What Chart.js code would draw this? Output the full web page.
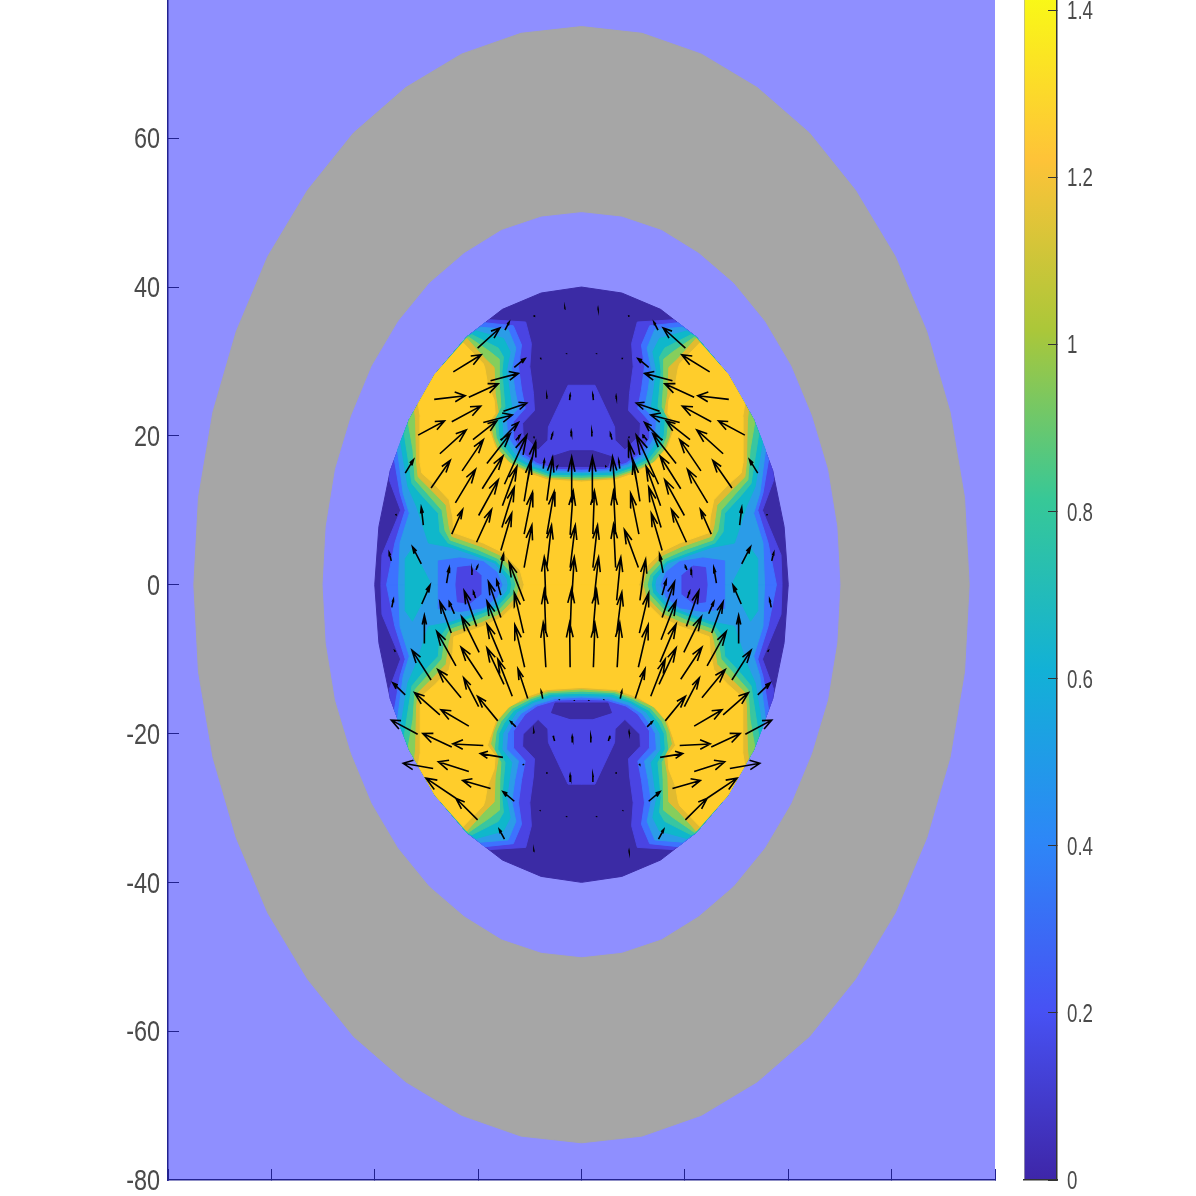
<!DOCTYPE html>
<html lang="en">
<head>
<meta charset="UTF-8" />
<title>Flux density contour with quiver</title>
<script src="https://cdn.jsdelivr.net/npm/chart.js@4/dist/chart.umd.min.js"></script>
<style>
html, body { margin: 0; background: #fff; overflow: hidden; width: 1196px; height: 1196px; }
canvas { position: absolute; top: -40px; }
#field { left: 0; }
#bar { left: 1000px; }
</style>
</head>
<body>
<canvas id="field" width="1196" height="1236"></canvas>
<canvas id="bar" width="196" height="1236"></canvas>
<script>
const xTicks = [-80,-60,-40,-20,0,20,40,60,80];
const yTicks = [-80,-60,-40,-20,0,20,40,60,80];
const barTicks = [0,0.2,0.4,0.6,0.8,1,1.2,1.4];
const barMax = 1.4247;
const parula = ['#3e26a8','#4752f4','#2d87f7','#12b1d6','#37c897','#abc739','#fec338','#f9fb15'];

const airColor = '#8f8fff';
const ironColor = '#a6a6a6';
const bandColors = ['#3b2ba5','#4a44e3','#3d72ff','#2b9ce8','#0fb7cb','#38c6a0','#86ce5c','#e1bb30','#ffcd2b'];

// outlines, flat x,y lists in axis units
const airBox = [-80,-80,80,-80,80,80,-80,80];
const outerRing = [75,0,74.1,11.7,71.3,23.2,66.8,34,60.7,44.1,53,53,44.1,60.7,34,66.8,23.2,71.3,11.7,74.1,0,75,-11.7,74.1,-23.2,71.3,-34,66.8,-44.1,60.7,-53,53,-60.7,44.1,-66.8,34,-71.3,23.2,-74.1,11.7,-75,0,-74.1,-11.7,-71.3,-23.2,-66.8,-34,-60.7,-44.1,-53,-53,-44.1,-60.7,-34,-66.8,-23.2,-71.3,-11.7,-74.1,0,-75,11.7,-74.1,23.2,-71.3,34,-66.8,44.1,-60.7,53,-53,60.7,-44.1,66.8,-34,71.3,-23.2,74.1,-11.7];
const innerRing = [50,0,49.4,7.8,47.6,15.5,44.5,22.7,40.5,29.4,35.4,35.4,29.4,40.5,22.7,44.5,15.5,47.6,7.8,49.4,0,50,-7.8,49.4,-15.5,47.6,-22.7,44.5,-29.4,40.5,-35.4,35.4,-40.5,29.4,-44.5,22.7,-47.6,15.5,-49.4,7.8,-50,0,-49.4,-7.8,-47.6,-15.5,-44.5,-22.7,-40.5,-29.4,-35.4,-35.4,-29.4,-40.5,-22.7,-44.5,-15.5,-47.6,-7.8,-49.4,0,-50,7.8,-49.4,15.5,-47.6,22.7,-44.5,29.4,-40.5,35.4,-35.4,40.5,-29.4,44.5,-22.7,47.6,-15.5,49.4,-7.8];
const coreRing = [40,0,39.2,7.8,37,15.3,33.3,22.2,28.3,28.3,22.2,33.3,15.3,37,7.8,39.2,0,40,-7.8,39.2,-15.3,37,-22.2,33.3,-28.3,28.3,-33.3,22.2,-37,15.3,-39.2,7.8,-40,0,-39.2,-7.8,-37,-15.3,-33.3,-22.2,-28.3,-28.3,-22.2,-33.3,-15.3,-37,-7.8,-39.2,0,-40,7.8,-39.2,15.3,-37,22.2,-33.3,28.3,-28.3,33.3,-22.2,37,-15.3,39.2,-7.8];

// contour bands, one closed piece per quadrant: top left, top right, bottom left, bottom right
const band2 = [
[0,0,0,26.8,-2.6,26.8,-6.4,21.2,-6.5,19.4,-8.4,18.1,-11.3,20.1,-11.4,21.7,-9.1,23.4,-9.3,25.7,-10,29.3,-9.7,32.4,-10.8,35.3,-17.8,35.6,-22.2,33.3,-28.3,28.3,-33.3,22.2,-37,15.3,-37.2,14.1,-35,10,-38.6,4,-38.8,0],
[0,0,0,26.8,2.6,26.8,6.4,21.2,6.5,19.4,8.4,18.1,11.3,20.1,11.4,21.7,9.1,23.4,9.3,25.7,10,29.3,9.7,32.4,10.8,35.3,17.8,35.6,22.2,33.3,28.3,28.3,33.3,22.2,37,15.3,37.2,14.1,35,10,38.6,4,38.8,0],
[0,0,0,-26.8,-2.6,-26.8,-6.4,-21.2,-6.5,-19.4,-8.4,-18.1,-11.3,-20.1,-11.4,-21.7,-9.1,-23.4,-9.3,-25.7,-10,-29.3,-9.7,-32.4,-10.8,-35.3,-17.8,-35.6,-22.2,-33.3,-28.3,-28.3,-33.3,-22.2,-37,-15.3,-37.2,-14.1,-35,-10,-38.6,-4,-38.8,0],
[0,0,0,-26.8,2.6,-26.8,6.4,-21.2,6.5,-19.4,8.4,-18.1,11.3,-20.1,11.4,-21.7,9.1,-23.4,9.3,-25.7,10,-29.3,9.7,-32.4,10.8,-35.3,17.8,-35.6,22.2,-33.3,28.3,-28.3,33.3,-22.2,37,-15.3,37.2,-14.1,35,-10,38.6,-4,38.8,0]];
const lensTop = [-5.8,17.2,-2.2,18,2.2,18,5.8,17.2,5.1,15.9,-5.1,15.9];
const lensBottom = [-5.8,-17.2,-2.2,-18,2.2,-18,5.8,-17.2,5.1,-15.9,-5.1,-15.9];
const band3 = [
[0,0,0,15.4,-4.7,15.5,-8.6,16.3,-10.9,17.4,-12.5,19,-13.2,19.7,-13.2,21.9,-10.9,23.7,-11.6,26.2,-12.2,29.3,-11.6,32.2,-13.2,34.8,-18.7,35.2,-22.2,33.3,-28.3,28.3,-33.3,22.2,-36.2,16.8,-35.1,12.3,-34.1,10,-36.1,5.6,-37.7,0],
[0,0,0,15.4,4.7,15.5,8.6,16.3,10.9,17.4,12.5,19,13.2,19.7,13.2,21.9,10.9,23.7,11.6,26.2,12.2,29.3,11.6,32.2,13.2,34.8,18.7,35.2,22.2,33.3,28.3,28.3,33.3,22.2,36.2,16.8,35.1,12.3,34.1,10,36.1,5.6,37.7,0],
[0,0,0,-15.4,-4.7,-15.5,-8.6,-16.3,-10.9,-17.4,-12.5,-19,-13.2,-19.7,-13.2,-21.9,-10.9,-23.7,-11.6,-26.2,-12.2,-29.3,-11.6,-32.2,-13.2,-34.8,-18.7,-35.2,-22.2,-33.3,-28.3,-28.3,-33.3,-22.2,-36.2,-16.8,-35.1,-12.3,-34.1,-10,-36.1,-5.6,-37.7,0],
[0,0,0,-15.4,4.7,-15.5,8.6,-16.3,10.9,-17.4,12.5,-19,13.2,-19.7,13.2,-21.9,10.9,-23.7,11.6,-26.2,12.2,-29.3,11.6,-32.2,13.2,-34.8,18.7,-35.2,22.2,-33.3,28.3,-28.3,33.3,-22.2,36.2,-16.8,35.1,-12.3,34.1,-10,36.1,-5.6,37.7,0]];
const band4 = [
[0,0,0,15.1,-5.1,15.3,-8.9,16.1,-11.7,17.3,-13.4,18.9,-14.3,20,-14.5,22.1,-12.2,23.7,-12.9,26.2,-13.5,29.1,-12.7,31.8,-14.2,34.3,-19.6,34.6,-22.2,33.3,-28.3,28.3,-33.3,22.2,-35.6,18.1,-34.5,12.3,-33.3,9.6,-35.1,5.6,-35.4,0],
[0,0,0,15.1,5.1,15.3,8.9,16.1,11.7,17.3,13.4,18.9,14.3,20,14.5,22.1,12.2,23.7,12.9,26.2,13.5,29.1,12.7,31.8,14.2,34.3,19.6,34.6,22.2,33.3,28.3,28.3,33.3,22.2,35.6,18.1,34.5,12.3,33.3,9.6,35.1,5.6,35.4,0],
[0,0,0,-15.1,-5.1,-15.3,-8.9,-16.1,-11.7,-17.3,-13.4,-18.9,-14.3,-20,-14.5,-22.1,-12.2,-23.7,-12.9,-26.2,-13.5,-29.1,-12.7,-31.8,-14.2,-34.3,-19.6,-34.6,-22.2,-33.3,-28.3,-28.3,-33.3,-22.2,-35.6,-18.1,-34.5,-12.3,-33.3,-9.6,-35.1,-5.6,-35.4,0],
[0,0,0,-15.1,5.1,-15.3,8.9,-16.1,11.7,-17.3,13.4,-18.9,14.3,-20,14.5,-22.1,12.2,-23.7,12.9,-26.2,13.5,-29.1,12.7,-31.8,14.2,-34.3,19.6,-34.6,22.2,-33.3,28.3,-28.3,33.3,-22.2,35.6,-18.1,34.5,-12.3,33.3,-9.6,35.1,-5.6,35.4,0]];
const islandBlue = [
[-27.7,0,-27.7,3.2,-23.5,3.6,-19,3.1,-16.4,1.7,-15.4,0,-16.4,-1.7,-19,-3.1,-23.5,-3.6,-27.7,-3.2],
[27.7,0,27.7,3.2,23.5,3.6,19,3.1,16.4,1.7,15.4,0,16.4,-1.7,19,-3.1,23.5,-3.6,27.7,-3.2]];
const islandViolet = [
[-24.3,0,-24,2.3,-21.6,2.5,-19.5,1.3,-19.5,-1.3,-21.6,-2.5,-24,-2.3],
[24.3,0,24,2.3,21.6,2.5,19.5,1.3,19.5,-1.3,21.6,-2.5,24,-2.3]];
const plateau = [
[-34.1,3.5,-32.7,4.9,-29.5,0.6,-29.5,-0.6,-32.7,-4.9,-34.1,-3.5],
[34.1,3.5,32.7,4.9,29.5,0.6,29.5,-0.6,32.7,-4.9,34.1,-3.5]];
const band5 = [
[0,0,0,14.9,-5.5,15,-9.3,15.8,-12.5,17.1,-14.2,18.8,-15.2,20,-15.4,22.1,-13.5,23.9,-14,26.2,-14.5,28.8,-13.8,31.3,-15.1,33.1,-20.4,34.1,-22.2,33.3,-28.3,28.3,-33.3,22.2,-35,19.2,-33.6,13.2,-31.9,10.5,-29.6,5.6,-25.1,5,-20.9,4,-16.7,2.9,-14.4,0.8,-14.2,0],
[0,0,0,14.9,5.5,15,9.3,15.8,12.5,17.1,14.2,18.8,15.2,20,15.4,22.1,13.5,23.9,14,26.2,14.5,28.8,13.8,31.3,15.1,33.1,20.4,34.1,22.2,33.3,28.3,28.3,33.3,22.2,35,19.2,33.6,13.2,31.9,10.5,29.6,5.6,25.1,5,20.9,4,16.7,2.9,14.4,0.8,14.2,0],
[0,0,0,-14.9,-5.5,-15,-9.3,-15.8,-12.5,-17.1,-14.2,-18.8,-15.2,-20,-15.4,-22.1,-13.5,-23.9,-14,-26.2,-14.5,-28.8,-13.8,-31.3,-15.1,-33.1,-20.4,-34.1,-22.2,-33.3,-28.3,-28.3,-33.3,-22.2,-35,-19.2,-33.6,-13.2,-31.9,-10.5,-29.6,-5.6,-25.1,-5,-20.9,-4,-16.7,-2.9,-14.4,-0.8,-14.2,0],
[0,0,0,-14.9,5.5,-15,9.3,-15.8,12.5,-17.1,14.2,-18.8,15.2,-20,15.4,-22.1,13.5,-23.9,14,-26.2,14.5,-28.8,13.8,-31.3,15.1,-33.1,20.4,-34.1,22.2,-33.3,28.3,-28.3,33.3,-22.2,35,-19.2,33.6,-13.2,31.9,-10.5,29.6,-5.6,25.1,-5,20.9,-4,16.7,-2.9,14.4,-0.8,14.2,0]];
const band6 = [
[0,0,0,14.6,-5.9,14.7,-9.6,15.6,-13.1,16.9,-15,18.6,-16,20,-16.2,22.1,-14.8,23.9,-15.1,26.2,-15.4,28.6,-15.1,30.6,-16.1,31.8,-21.2,33.6,-22.2,33.3,-28.3,28.3,-33.3,22.2,-34.3,20.3,-32.8,13.6,-30.9,12,-27.7,9.6,-27.4,7.1,-25.8,5.6,-20.6,4.3,-16.5,3.2,-13.8,1.1,-13.5,0],
[0,0,0,14.6,5.9,14.7,9.6,15.6,13.1,16.9,15,18.6,16,20,16.2,22.1,14.8,23.9,15.1,26.2,15.4,28.6,15.1,30.6,16.1,31.8,21.2,33.6,22.2,33.3,28.3,28.3,33.3,22.2,34.3,20.3,32.8,13.6,30.9,12,27.7,9.6,27.4,7.1,25.8,5.6,20.6,4.3,16.5,3.2,13.8,1.1,13.5,0],
[0,0,0,-14.6,-5.9,-14.7,-9.6,-15.6,-13.1,-16.9,-15,-18.6,-16,-20,-16.2,-22.1,-14.8,-23.9,-15.1,-26.2,-15.4,-28.6,-15.1,-30.6,-16.1,-31.8,-21.2,-33.6,-22.2,-33.3,-28.3,-28.3,-33.3,-22.2,-34.3,-20.3,-32.8,-13.6,-30.9,-12,-27.7,-9.6,-27.4,-7.1,-25.8,-5.6,-20.6,-4.3,-16.5,-3.2,-13.8,-1.1,-13.5,0],
[0,0,0,-14.6,5.9,-14.7,9.6,-15.6,13.1,-16.9,15,-18.6,16,-20,16.2,-22.1,14.8,-23.9,15.1,-26.2,15.4,-28.6,15.1,-30.6,16.1,-31.8,21.2,-33.6,22.2,-33.3,28.3,-28.3,33.3,-22.2,34.3,-20.3,32.8,-13.6,30.9,-12,27.7,-9.6,27.4,-7.1,25.8,-5.6,20.6,-4.3,16.5,-3.2,13.8,-1.1,13.5,0]];
const band7 = [
[0,0,0,14.3,-6.3,14.5,-10,15.4,-13.4,16.6,-15.6,18.4,-16.5,19.8,-16.9,22.1,-15.6,23.9,-15.8,26.2,-15.9,28.4,-15.9,30.3,-17.7,31.3,-21.9,33.3,-28.3,28.3,-33.3,22.2,-33.5,21.7,-32.6,18.1,-32.2,14.1,-29.9,12.3,-27,10,-26.4,7.3,-25.4,6,-20,4.7,-16.1,3.5,-13.2,1.3,-12.7,0],
[0,0,0,14.3,6.3,14.5,10,15.4,13.4,16.6,15.6,18.4,16.5,19.8,16.9,22.1,15.6,23.9,15.8,26.2,15.9,28.4,15.9,30.3,17.7,31.3,21.9,33.3,28.3,28.3,33.3,22.2,33.5,21.7,32.6,18.1,32.2,14.1,29.9,12.3,27,10,26.4,7.3,25.4,6,20,4.7,16.1,3.5,13.2,1.3,12.7,0],
[0,0,0,-14.3,-6.3,-14.5,-10,-15.4,-13.4,-16.6,-15.6,-18.4,-16.5,-19.8,-16.9,-22.1,-15.6,-23.9,-15.8,-26.2,-15.9,-28.4,-15.9,-30.3,-17.7,-31.3,-21.9,-33.3,-28.3,-28.3,-33.3,-22.2,-33.5,-21.7,-32.6,-18.1,-32.2,-14.1,-29.9,-12.3,-27,-10,-26.4,-7.3,-25.4,-6,-20,-4.7,-16.1,-3.5,-13.2,-1.3,-12.7,0],
[0,0,0,-14.3,6.3,-14.5,10,-15.4,13.4,-16.6,15.6,-18.4,16.5,-19.8,16.9,-22.1,15.6,-23.9,15.8,-26.2,15.9,-28.4,15.9,-30.3,17.7,-31.3,21.9,-33.3,28.3,-28.3,33.3,-22.2,33.5,-21.7,32.6,-18.1,32.2,-14.1,29.9,-12.3,27,-10,26.4,-7.3,25.4,-6,20,-4.7,16.1,-3.5,13.2,-1.3,12.7,0]];
const band8 = [
[0,0,0,14,-6.5,14.3,-10.2,15.2,-13.8,16.3,-16.2,18.2,-17.1,19.8,-17.6,21.4,-16.1,23.2,-16.7,25.7,-16.9,29.2,-18.7,30.4,-22.2,33.1,-28.3,28.3,-32.3,23.4,-32.1,22.1,-31.9,16.3,-31.6,14.5,-29,12.7,-26.2,10.7,-25.6,7.8,-25.1,6.5,-19.3,5.1,-15.8,4,-12.5,1.6,-11.9,0],
[0,0,0,14,6.5,14.3,10.2,15.2,13.8,16.3,16.2,18.2,17.1,19.8,17.6,21.4,16.1,23.2,16.7,25.7,16.9,29.2,18.7,30.4,22.2,33.1,28.3,28.3,32.3,23.4,32.1,22.1,31.9,16.3,31.6,14.5,29,12.7,26.2,10.7,25.6,7.8,25.1,6.5,19.3,5.1,15.8,4,12.5,1.6,11.9,0],
[0,0,0,-14,-6.5,-14.3,-10.2,-15.2,-13.8,-16.3,-16.2,-18.2,-17.1,-19.8,-17.6,-21.4,-16.1,-23.2,-16.7,-25.7,-16.9,-29.2,-18.7,-30.4,-22.2,-33.1,-28.3,-28.3,-32.3,-23.4,-32.1,-22.1,-31.9,-16.3,-31.6,-14.5,-29,-12.7,-26.2,-10.7,-25.6,-7.8,-25.1,-6.5,-19.3,-5.1,-15.8,-4,-12.5,-1.6,-11.9,0],
[0,0,0,-14,6.5,-14.3,10.2,-15.2,13.8,-16.3,16.2,-18.2,17.1,-19.8,17.6,-21.4,16.1,-23.2,16.7,-25.7,16.9,-29.2,18.7,-30.4,22.2,-33.1,28.3,-28.3,32.3,-23.4,32.1,-22.1,31.9,-16.3,31.6,-14.5,29,-12.7,26.2,-10.7,25.6,-7.8,25.1,-6.5,19.3,-5.1,15.8,-4,12.5,-1.6,11.9,0]];
const band9 = [
[0,0,0,13.8,-6.7,14.1,-10.5,15,-14.2,16.5,-16.7,18.5,-17.7,20.5,-18.2,21.6,-16.7,23,-16.9,24.8,-18.2,27.1,-18.7,29.1,-19,29.7,-22.9,32.5,-28.3,28.3,-31.6,24.3,-31.2,22.6,-31.2,16.3,-30.9,15,-28.3,13.4,-25.6,11.4,-24.9,9.1,-24.7,7,-19,5.6,-15.4,4.4,-11.9,2,-11.1,0],
[0,0,0,13.8,6.7,14.1,10.5,15,14.2,16.5,16.7,18.5,17.7,20.5,18.2,21.6,16.7,23,16.9,24.8,18.2,27.1,18.7,29.1,19,29.7,22.9,32.5,28.3,28.3,31.6,24.3,31.2,22.6,31.2,16.3,30.9,15,28.3,13.4,25.6,11.4,24.9,9.1,24.7,7,19,5.6,15.4,4.4,11.9,2,11.1,0],
[0,0,0,-13.8,-6.7,-14.1,-10.5,-15,-14.2,-16.5,-16.7,-18.5,-17.7,-20.5,-18.2,-21.6,-16.7,-23,-16.9,-24.8,-18.2,-27.1,-18.7,-29.1,-19,-29.7,-22.9,-32.5,-28.3,-28.3,-31.6,-24.3,-31.2,-22.6,-31.2,-16.3,-30.9,-15,-28.3,-13.4,-25.6,-11.4,-24.9,-9.1,-24.7,-7,-19,-5.6,-15.4,-4.4,-11.9,-2,-11.1,0],
[0,0,0,-13.8,6.7,-14.1,10.5,-15,14.2,-16.5,16.7,-18.5,17.7,-20.5,18.2,-21.6,16.7,-23,16.9,-24.8,18.2,-27.1,18.7,-29.1,19,-29.7,22.9,-32.5,28.3,-28.3,31.6,-24.3,31.2,-22.6,31.2,-16.3,30.9,-15,28.3,-13.4,25.6,-11.4,24.9,-9.1,24.7,-7,19,-5.6,15.4,-4.4,11.9,-2,11.1,0]];

// quiver arrows: tail x, tail y, head x, head y
const arrowsTopLeft = [
[-20.1,31.8,-15.8,34.5],[-24.8,28.6,-19.4,30.9],[-14.8,34.2,-14,35.3],[-13,29.2,-10.9,30.4],[-17.6,27.4,-12.2,28.4],[-21.8,25.2,-16.1,27],[-28.5,24.9,-22.5,25.4],[-25.1,21.9,-19.5,24],[-31.6,20.1,-26.5,22],[-15.1,23.3,-10.6,24.4],[-19,21.8,-13.4,22.8],[-21,19.5,-16.4,22],[-27.4,17.6,-22.3,20.8],[-15.6,19.4,-12.2,21.8],[-2.3,24.8,-2.2,25.5],[-5.9,19.5,-5.6,20.3],[-2,19.9,-2,20.6],[-6.7,25,-6.7,25.3],[-9.2,36,-9.1,36.2],[-8,30.4,-7.9,30.5],[-2.9,31,-2.9,31.1],[-3.2,37,-3.2,37.1],
[-34.1,15,-32.5,16.8],[-29.1,13,-25.4,16.7],[-23.1,15.3,-19,19.5],[-24.4,11,-20.5,15.5],[-19.2,12.9,-15.2,17.3],[-18.3,16.3,-13.8,20.3],[-19.9,9.3,-16.1,14.1],[-14.9,13.5,-10.6,20.1],[-15.3,10.6,-12.5,15.9],[-15.4,7.7,-13,13.1],[-25.1,6.8,-23,10.1],[-20.3,5.7,-17.4,10.1],[-10.6,13.4,-8.9,19.2],[-11.1,11.2,-9.8,16.7],[-11.1,6.8,-9.5,12.4],[-11.1,2.3,-9.6,8],[-15.6,4.6,-13.5,9.6],[-6.7,11.3,-5.6,17.1],[-6.7,6.8,-5.3,12.5],[-6.7,2.4,-5.8,8],[-2,11.1,-1.9,17.2],[-2.2,6.7,-1.6,12.6],[-2.2,2.3,-1.2,8],
[-30.6,8,-31,10.4],[-31,2.8,-32.7,5.1],[-36.8,3.2,-37.2,4.3],[-26.1,0.2,-25.6,2.3],[-20.4,2,-20.1,2.5],[-21.2,1.3,-21.2,2],[-15.8,1.6,-15.1,4.1],[-7.4,15.6,-7.2,16.7],[-36,9.4,-35.9,9.5],[-12.7,19.4,-11.9,20.1],[-4.8,15.8,-4.7,15.9],[-9.3,19.8,-9.2,19.9]];
const arrowsTopRight = [
[20.1,31.8,15.8,34.5],[24.8,28.6,19.4,30.9],[14.8,34.2,14,35.3],[13,29.2,10.9,30.4],[17.6,27.4,12.2,28.4],[21.8,25.2,16.1,27],[28.5,24.9,22.5,25.4],[25.1,21.9,19.5,24],[31.6,20.1,26.5,22],[15.1,23.3,10.6,24.4],[19,21.8,13.4,22.8],[21,19.5,16.4,22],[27.4,17.6,22.3,20.8],[15.6,19.4,12.2,21.8],[2.3,24.8,2.2,25.5],[5.9,19.5,5.6,20.3],[2,19.9,2,20.6],[6.7,25,6.7,25.3],[9.2,36,9.1,36.2],[8,30.4,7.9,30.5],[2.9,31,2.9,31.1],[3.2,37,3.2,37.1],
[34.1,15,32.5,16.8],[29.1,13,25.4,16.7],[23.1,15.3,19,19.5],[24.4,11,20.5,15.5],[19.2,12.9,15.2,17.3],[18.3,16.3,13.8,20.3],[19.9,9.3,16.1,14.1],[14.9,13.5,10.6,20.1],[15.3,10.6,12.5,15.9],[15.4,7.7,13,13.1],[25.1,6.8,23,10.1],[20.3,5.7,17.4,10.1],[10.8,13.4,9.1,19.2],[11.3,11.2,10,16.7],[11.1,6.8,9.5,12.3],[11,2.3,8.3,7.4],[15.6,4.6,13.5,9.6],[6.6,11.4,6,17.2],[6.6,6.8,6.2,12.6],[6.6,2.3,6.2,8.1],[2.2,11.1,2.1,17.2],[2.2,6.8,2.5,12.6],[2.2,2.3,3.1,8],
[30.6,8,31,10.4],[31,2.8,32.7,5.1],[36.8,3.2,37.2,4.3],[26.1,0.2,25.6,2.3],[20.4,2,20.1,2.5],[21.2,1.3,21.2,2],[15.8,1.6,15.1,4.1],[7.4,15.6,7.2,16.7],[36,9.4,35.9,9.5],[12.7,19.4,11.9,20.1],[4.8,15.8,4.7,15.9],[9.3,19.8,9.2,19.9]];
const arrowsBottomLeft = [
[-30.9,-2.6,-29.3,-0.05],[-36.7,-3.05,-36.4,-2],[-30.4,-7.9,-30.4,-4.1],[-25.2,-6.5,-27.4,-2.3],[-24.6,-3.9,-25.6,-2.3],[-20.3,-5.6,-22.7,-0.8],[-20.5,-1.8,-20.9,-0.95],[-15.6,-4.4,-18,0.4],[-15.6,-1.4,-16.4,0.6],[-11.2,-6.5,-13,-1.1],[-11.1,-2.2,-14,3],[-6.9,-2.1,-7.2,3.7],[-1.9,-2.1,-1.4,3.7],[-6.9,-6.5,-7.2,-0.7],[-2.2,-6.5,-1.9,-0.5],[-6.9,-11.1,-7.4,-5.1],[-2.2,-11.1,-2.3,-5.1],[-11,-11.1,-12.9,-5.4],[-15.4,-7.4,-18.3,-2.2],[-19.8,-9.1,-23.2,-4.3],[-24.3,-10.9,-28,-6.3],[-29.1,-12.8,-32.8,-8.8],[-34.1,-14.8,-36.5,-13.2],[-36,-9,-36.1,-8.9],[-15.2,-10.4,-18.3,-5.3],[-19.2,-12.7,-23.3,-8.4],[-15,-13.4,-18.3,-8.5],[-13.4,-15,-16.2,-10],[-10.4,-15.3,-12.3,-11.3],[-23.3,-15.2,-27.8,-11.4],[-16.2,-18.3,-20.1,-15],[-19.9,-16.4,-22.8,-12.5],[-27.4,-17.5,-32.3,-14.5],[-21.8,-19,-27.2,-16.8],[-31.7,-20.1,-36.8,-18.2],[-7.5,-15.3,-7.8,-14.3],[-12.7,-19.1,-13.7,-18.4],[-4.3,-15.5,-4.3,-15.4],[-1.4,-15.6,-1.4,-15.5],[-9.3,-20,-9.3,-19.9],
[-25.1,-21.8,-30.7,-20],[-19,-21.6,-24.9,-21.4],[-15.2,-23.2,-19.6,-22.7],[-28.7,-24.7,-34.5,-24],[-21.8,-25.1,-27.7,-23.8],[-17.6,-27.4,-23,-26.3],[-24.3,-28.7,-30.1,-26],[-20.1,-31.6,-24.3,-28.7],[-13,-29.1,-15.2,-27.8],[-14.9,-34.2,-15.9,-32.9],[-11.1,-24.2,-11.3,-24.1],[-5.2,-21,-5.5,-20.3],[-1.8,-21.2,-1.8,-20.4],[-2.2,-26.5,-2.2,-25.6],[-6.7,-25.4,-6.7,-25.2],[-9.2,-19.9,-9.2,-19.8],[-8,-30.4,-8,-30.3],[-2.9,-31.2,-2.9,-31.1],[-9.2,-35.9,-9.2,-35.8]];
const arrowsBottomRight = [
[30.9,-2.6,29.3,-0.05],[36.7,-3.05,36.4,-2],[30.4,-7.9,30.4,-4.1],[25.2,-6.5,27.4,-2.3],[24.6,-3.9,25.6,-2.3],[20.3,-5.6,22.7,-0.8],[20.5,-1.8,20.9,-0.95],[15.6,-4.4,18,0.4],[15.6,-1.4,16.4,0.6],[11.2,-6.5,13,-1.1],[11.3,-2.1,12.4,3.4],[6.8,-2.1,7.6,3.7],[2.4,-2.1,3.3,3.7],[6.8,-6.6,7.8,-1],[2.2,-6.5,2.9,-0.7],[6.9,-11.1,7.4,-5.1],[2.3,-11.1,2.6,-5.2],[11,-11.1,12.9,-5.4],[15.4,-7.4,18.3,-2.2],[19.8,-9.1,23.2,-4.3],[24.3,-10.9,28,-6.3],[29.1,-12.8,32.8,-8.8],[34.1,-14.8,36.5,-13.2],[36,-9,36.1,-8.9],[15.2,-10.4,18.3,-5.3],[19.2,-12.7,23.3,-8.4],[15,-13.4,18.3,-8.5],[13.4,-15,16.2,-10],[10.4,-15.3,12.3,-11.3],[23.3,-15.2,27.8,-11.4],[16.2,-18.3,20.1,-15],[19.9,-16.4,22.8,-12.5],[27.4,-17.5,32.3,-14.5],[21.8,-19,27.2,-16.8],[31.7,-20.1,36.8,-18.2],[7.5,-15.3,7.8,-14.3],[12.7,-19.1,13.7,-18.4],[4.3,-15.5,4.3,-15.4],[1.4,-15.6,1.4,-15.5],[9.3,-20,9.3,-19.9],
[25.1,-21.8,30.7,-20],[19,-21.6,24.9,-21.4],[15.2,-23.2,19.6,-22.7],[28.7,-24.7,34.5,-24],[21.8,-25.1,27.7,-23.8],[17.6,-27.4,23,-26.3],[24.3,-28.7,30.1,-26],[20.1,-31.6,24.3,-28.7],[13,-29.1,15.2,-27.8],[14.9,-34.2,15.9,-32.9],[11.1,-24.2,11.3,-24.1],[5.2,-21,5.5,-20.3],[1.8,-21.2,1.8,-20.4],[2.2,-26.5,2.2,-25.6],[6.7,-25.4,6.7,-25.2],[9.2,-19.9,9.2,-19.8],[8,-30.4,8,-30.3],[2.9,-31.2,2.9,-31.1],[9.2,-35.9,9.2,-35.8]];

const fieldFont = { family: '"Liberation Sans", sans-serif', size: 30 };
const barFont = { family: '"Liberation Sans", sans-serif', size: 26 };
const textColor = '#4a4a4a';
const axisColor = '#22228f';

const datasets = [];
function addShape(flat, color) {
  const pts = [];
  for (let i = 0; i < flat.length; i += 2) pts.push({x: flat[i], y: flat[i+1]});
  pts.push(pts[0]);
  datasets.push({
    data: pts, showLine: true, fill: 'shape', backgroundColor: color,
    borderColor: color, borderWidth: 1, pointRadius: 0, order: -datasets.length
  });
}
function addBand(pieces, color) { pieces.forEach(p => addShape(p, color)); }

addShape(airBox, airColor);
addShape(outerRing, ironColor);
addShape(innerRing, airColor);
addShape(coreRing, bandColors[0]);
addBand(band2, bandColors[1]);
addShape(lensTop, bandColors[0]);
addShape(lensBottom, bandColors[0]);
addBand(band3, bandColors[2]);
addBand(band4, bandColors[3]);
addBand(islandBlue, bandColors[2]);
addBand(islandViolet, bandColors[1]);
addBand(plateau, bandColors[4]);
addBand(band5, bandColors[4]);
addBand(band6, bandColors[5]);
addBand(band7, bandColors[6]);
addBand(band8, bandColors[7]);
addBand(band9, bandColors[8]);

// each arrow is a shaft and two barbs, broken up with gaps
const quiverPts = [];
const gap = {x: null, y: null};
[arrowsTopLeft, arrowsTopRight, arrowsBottomLeft, arrowsBottomRight].forEach(list => {
  list.forEach(([x, y, hx, hy]) => {
    const u = hx - x, v = hy - y, a = 0.33, b = 0.33;
    quiverPts.push({x, y}, {x: hx, y: hy}, gap,
      {x: hx - a*(u + b*v), y: hy - a*(v - b*u)}, {x: hx, y: hy},
      {x: hx - a*(u - b*v), y: hy - a*(v + b*u)}, gap);
  });
});
datasets.push({
  data: quiverPts, showLine: true, fill: false, borderColor: '#000', borderWidth: 1.6,
  pointRadius: 0, spanGaps: false, order: -datasets.length
});

// the tick text in the picture is squeezed sideways, so squeeze it around its anchor
function squeezeLabels(scale, anchor, sx) {
  scale.drawLabels = function (area) {
    const c = this.ctx;
    c.save();
    c.translate(anchor, 2);
    c.scale(sx, 1);
    c.translate(-anchor, 0);
    Chart.Scale.prototype.drawLabels.call(this, area);
    c.restore();
  };
}

new Chart(document.getElementById('field'), {
  type: 'scatter',
  data: { datasets },
  options: {
    responsive: false, animation: false, devicePixelRatio: 1,
    layout: { autoPadding: false, padding: { top: 29.4, right: 201, bottom: 0, left: 0 } },
    plugins: { legend: { display: false }, tooltip: { enabled: false } },
    scales: {
      x: {
        type: 'linear', min: -80, max: 80,
        afterBuildTicks: s => { s.ticks = xTicks.map(value => ({value})); },
        afterFit: s => { s.height = 16; s.paddingLeft = 0; s.paddingRight = 0; },
        ticks: { display: false },
        grid: { drawOnChartArea: false, tickLength: -11, color: axisColor, tickWidth: 1, z: 2 },
        border: { color: axisColor, width: 1.5, z: 2 }
      },
      y: {
        type: 'linear', min: -80, max: 80,
        afterBuildTicks: s => { s.ticks = yTicks.map(value => ({value})); },
        afterFit: s => { s.width = 168; s.paddingTop = 0; s.paddingBottom = 0; squeezeLabels(s, 160, 0.78); },
        ticks: { font: fieldFont, color: textColor, padding: 19, callback: v => String(v) },
        grid: {
          drawOnChartArea: false, tickLength: -11, tickWidth: 1, z: 2,
          color: c => (c.tick && c.tick.value === -80 ? 'transparent' : axisColor)
        },
        border: { color: axisColor, width: 1.5, z: 2 }
      }
    }
  }
});

new Chart(document.getElementById('bar'), {
  type: 'bar',
  data: {
    labels: [''],
    datasets: [{
      data: [[0, barMax]], barPercentage: 1, categoryPercentage: 1,
      borderSkipped: false, borderColor: '#aaaaaa', borderWidth: { left: 1, right: 0, top: 0, bottom: 0 },
      backgroundColor: ctx => {
        const s = ctx.chart.scales.y;
        if (!s || !ctx.chart.chartArea) return parula[0];
        const g = ctx.chart.ctx.createLinearGradient(0, s.getPixelForValue(0), 0, s.getPixelForValue(barMax));
        parula.forEach((c, i) => g.addColorStop(i / (parula.length - 1), c));
        return g;
      }
    }]
  },
  options: {
    responsive: false, animation: false, devicePixelRatio: 1,
    layout: { autoPadding: false, padding: { top: 29.4, right: 0, bottom: 0, left: 24 } },
    plugins: { legend: { display: false }, tooltip: { enabled: false } },
    scales: {
      x: {
        afterFit: s => { s.height = 16; },
        ticks: { display: false },
        grid: { drawOnChartArea: false, drawTicks: false },
        border: { color: '#333333', width: 1.5, z: 2 }
      },
      y: {
        position: 'right', min: 0, max: barMax,
        afterBuildTicks: s => { s.ticks = barTicks.map(value => ({value})); },
        afterFit: s => { s.width = 139; s.paddingTop = 0; s.paddingBottom = 0; squeezeLabels(s, 67, 0.72); },
        ticks: { font: barFont, color: textColor, padding: 19, callback: v => String(v) },
        grid: { drawOnChartArea: false, tickLength: -9, color: '#333333', tickWidth: 1, z: 2 },
        border: { color: '#333333', width: 1.5, z: 2 }
      }
    }
  }
});
</script>
</body>
</html>
